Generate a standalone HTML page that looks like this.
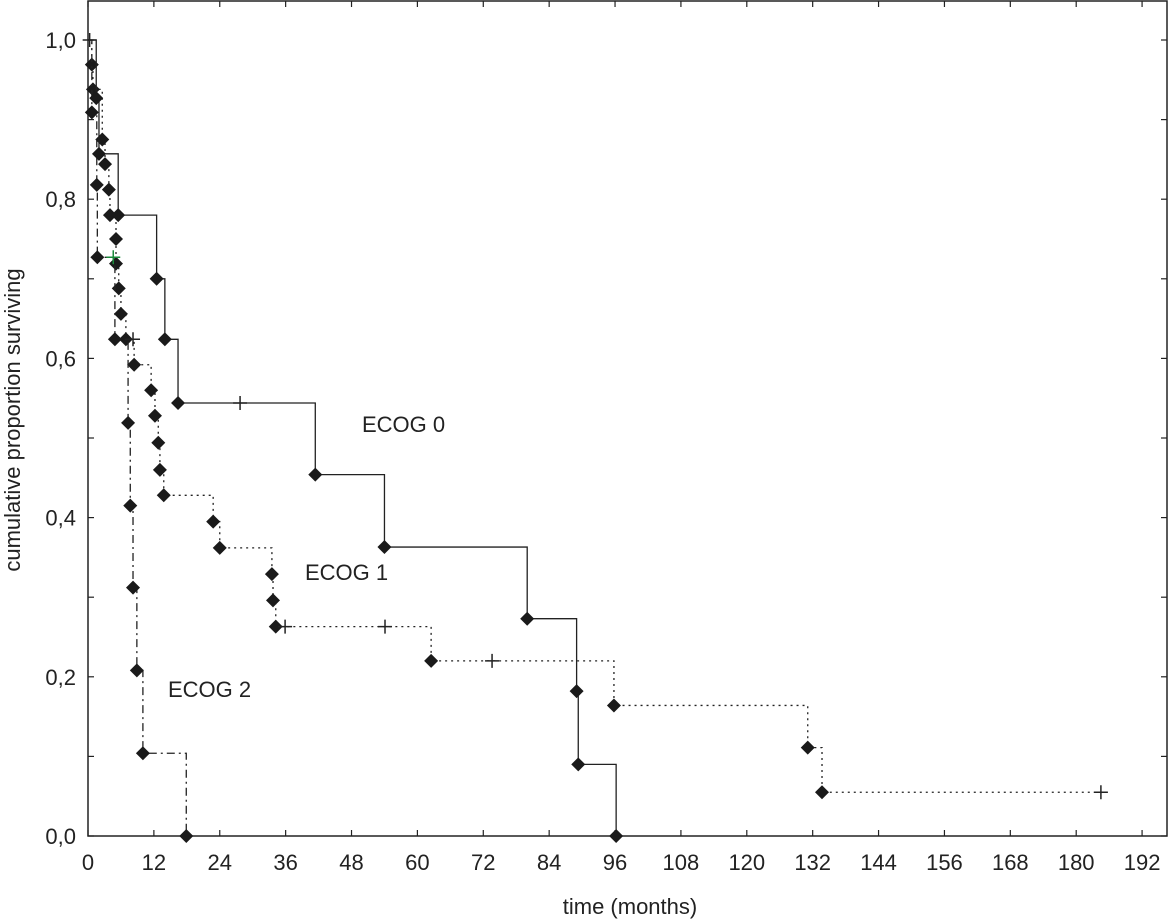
<!DOCTYPE html>
<html><head><meta charset="utf-8"><style>
html,body{margin:0;padding:0;background:#fff;}
svg{display:block;font-family:"Liberation Sans",Arial,sans-serif;}
</style></head><body>
<svg id="chart" width="1170" height="921" viewBox="0 0 1170 921" xmlns="http://www.w3.org/2000/svg">
<rect x="88" y="1" width="1079" height="835" fill="none" stroke="#222" stroke-width="1.5"/>
<g id="axes"></g>
<g id="series"></g>
<text x="362" y="432" font-size="22" fill="#222">ECOG 0</text>
<text x="305" y="580" font-size="22" fill="#222">ECOG 1</text>
<text x="168" y="697" font-size="22" fill="#222">ECOG 2</text>
<text x="630" y="914" font-size="22" text-anchor="middle" fill="#222">time (months)</text>
<text transform="translate(20,420) rotate(-90)" font-size="22" text-anchor="middle" fill="#222">cumulative proportion surviving</text>
</svg>
<script>
const xTicks=[0,12,24,36,48,60,72,84,96,108,120,132,144,156,168,180,192];
const yTicks=[0,0.2,0.4,0.6,0.8,1.0];
const yTickLabels=["0,0","0,2","0,4","0,6","0,8","1,0"];
const e0Times=[1.5,2.0,5.5,12.5,14.0,16.4,41.4,54.0,80.0,89.0,89.3,96.2];
const e0Surv=[0.927,0.857,0.78,0.70,0.624,0.544,0.454,0.363,0.273,0.182,0.09,0];
const e0CensT=[27.7];const e0CensS=[0.544];
const e1Times=[0.7,0.9,2.6,3.1,3.8,4.0,5.1,5.1,5.6,6.0,6.9,8.4,11.5,12.2,12.8,13.1,13.8,22.8,24.0,33.5,33.7,34.2,62.5,95.8,131.1,133.7];
const e1Surv=[0.969,0.938,0.875,0.844,0.812,0.78,0.75,0.719,0.688,0.656,0.624,0.592,0.56,0.528,0.494,0.46,0.428,0.395,0.362,0.329,0.296,0.263,0.22,0.164,0.111,0.055];
const e1CensT=[0.3,8.2,35.9,54.1,73.6,184.5];const e1CensS=[1.0,0.624,0.263,0.263,0.22,0.055];
const e2Times=[0.7,1.6,1.7,4.9,7.3,7.7,8.2,8.9,10.0,17.9];
const e2Surv=[0.909,0.818,0.727,0.624,0.519,0.415,0.312,0.208,0.104,0];
const e2CensT=[4.6];const e2CensS=[0.727];
const X=t=>88+t*5.49, Y=s=>836-s*796;
const NS="http://www.w3.org/2000/svg";
function mk(tag,attrs,parent){const e=document.createElementNS(NS,tag);for(const k in attrs)e.setAttribute(k,attrs[k]);parent.appendChild(e);return e;}
const ax=document.getElementById('axes');
xTicks.forEach(t=>{
 const l=mk('line',{x1:X(t),x2:X(t),y1:836,y2:830,stroke:'#222','stroke-width':1.2},ax);
 
 
 const l2=mk('line',{x1:X(t),x2:X(t),y1:1,y2:7,stroke:'#222','stroke-width':1.2},ax);
 
 
 const tx=mk('text',{x:X(t),y:870,'font-size':22,'text-anchor':'middle',fill:'#222'},ax);
 tx.textContent=t;
 
 
});
for(let i=0;i<=10;i++){const s=i/10;
 const l=mk('line',{x1:88,x2:94,y1:Y(s),y2:Y(s),stroke:'#222','stroke-width':1.2},ax);
 
 
 const r=mk('line',{x1:1161,x2:1167,y1:Y(s),y2:Y(s),stroke:'#222','stroke-width':1.2},ax);
 
 
}
yTicks.forEach((s,i)=>{
 const tx=mk('text',{x:76,y:Y(s)+8,'font-size':22,'text-anchor':'end',fill:'#222'},ax);
 tx.textContent=yTickLabels[i];
 
 
});
const sg=document.getElementById('series');
function drawSeries(name,times,surv,cT,cS,dash){
 const g=mk('g',{},sg);
 
 
 let d='M'+X(0)+','+Y(1);let prev=1;
 times.forEach((t,i)=>{d+=' H'+X(t)+' V'+Y(surv[i]);prev=surv[i];});
 const lastT=Math.max(times[times.length-1],...cT);
 if(prev>0)d+=' H'+X(lastT);
 const p=mk('path',{d:d,fill:'none',stroke:'#222','stroke-width':1.3,'stroke-dasharray':dash},g);
 
 
 times.forEach((t,i)=>{
  const x=X(t),y=Y(surv[i]);
  const m=mk('polygon',{points:`${x},${y-7} ${x+7},${y} ${x},${y+7} ${x-7},${y}`,fill:'#1a1a1a'},g);
  
  
 });
 cT.forEach((t,i)=>{
  const x=X(t),y=Y(cS[i]);
  const c=mk('path',{d:`M${x-7},${y} H${x+7} M${x},${y-7} V${y+7}`,stroke:(name==='ecog2-curve'?'#1a8a3a':'#222'),'stroke-width':1.5,fill:'none'},g);
  
  
 });
}
drawSeries('ecog1-curve',e1Times,e1Surv,e1CensT,e1CensS,'2,4');
drawSeries('ecog2-curve',e2Times,e2Surv,e2CensT,e2CensS,'8,4,2,4');
drawSeries('ecog0-curve',e0Times,e0Surv,e0CensT,e0CensS,'none');
</script>
</body></html>
